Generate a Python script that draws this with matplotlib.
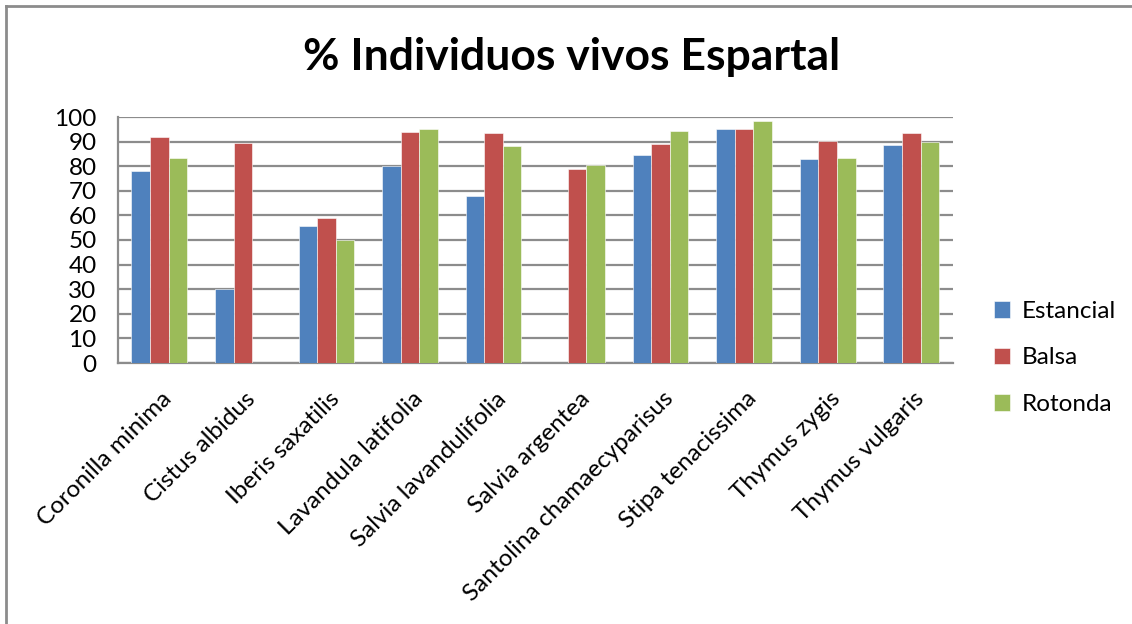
import matplotlib
matplotlib.use("Agg")
import matplotlib.pyplot as plt
import numpy as np
from matplotlib.lines import Line2D
from matplotlib.transforms import ScaledTranslation

categories = ["Coronilla minima", "Cistus albidus", "Iberis saxatilis", "Lavandula latifolia",
              "Salvia lavandulifolia", "Salvia argentea", "Santolina chamaecyparisus",
              "Stipa tenacissima", "Thymus zygis", "Thymus vulgaris"]
estancial = [78.1, 30.2, 55.5, 80.1, 68.0, 0, 84.5, 95.1, 82.9, 88.6]
balsa = [92.0, 89.5, 58.9, 93.9, 93.6, 79.0, 88.9, 95.1, 90.2, 93.6]
rotonda = [83.4, 0, 50.1, 95.2, 88.4, 80.5, 94.2, 98.2, 83.3, 90.0]
series_names = ["Estancial", "Balsa", "Rotonda"]
colors = ["#4F81BD", "#C0504D", "#9BBB59"]
yticks = list(range(0, 101, 10))

plt.rcParams['font.family'] = ['Lato', 'DejaVu Sans']

W, H = 1132, 624
fig = plt.figure(figsize=(W / 100, H / 100), dpi=100)
ax = fig.add_axes([117.5 / W, 1 - 363 / H, (953 - 117.5) / W, (363 - 117) / H])

x = np.arange(len(categories))
bw = 1 / 4.5
for i, (vals, c, n) in enumerate(zip([estancial, balsa, rotonda], colors, series_names)):
    ax.bar(x + (i - 1) * bw, vals, width=bw, color=c, edgecolor='white', linewidth=0.4,
           label=n, zorder=3)

ax.set_xlim(-0.5, len(categories) - 0.5)
ax.set_ylim(0, 100)
ax.set_yticks(yticks)
ax.set_yticklabels([str(v) for v in yticks], fontsize=17.5)
ax.yaxis.grid(True, color='#8C8C8C', linewidth=1.6, zorder=0)
ax.set_axisbelow(True)
ax.tick_params(axis='x', length=0, pad=18)
ax.tick_params(axis='y', length=0, pad=15)
for s in ['top', 'right']:
    ax.spines[s].set_visible(False)
for s in ['left', 'bottom']:
    ax.spines[s].set_color('#8C8C8C')
    ax.spines[s].set_linewidth(1.6)

ax.set_xticks(x)
ax.set_xticklabels(categories, rotation=45, ha='right', rotation_mode='anchor', fontsize=17.5)
off = ScaledTranslation(2 / 100, 0, fig.dpi_scale_trans)
for lbl in ax.get_xticklabels():
    lbl.set_transform(lbl.get_transform() + off)

fig.text(572 / W, 1 - 57 / H, "% Individuos vivos Espartal", ha='center', va='center',
         fontsize=32, fontweight='bold')

leg = fig.legend(loc='center left', bbox_to_anchor=(972 / W, 1 - 358 / H), frameon=False,
                 fontsize=17.5, handlelength=0.65, handleheight=0.65, labelspacing=1.05,
                 handletextpad=0.5)

# outer frame
fig.add_artist(Line2D([5.5 / W, 5.5 / W], [0, 1 - 6 / H], color='#8C8C8C', linewidth=2,
                      transform=fig.transFigure))
fig.add_artist(Line2D([5.5 / W, 1], [1 - 6 / H, 1 - 6 / H], color='#8C8C8C', linewidth=2,
                      transform=fig.transFigure))

fig.savefig("out.png", dpi=100)
